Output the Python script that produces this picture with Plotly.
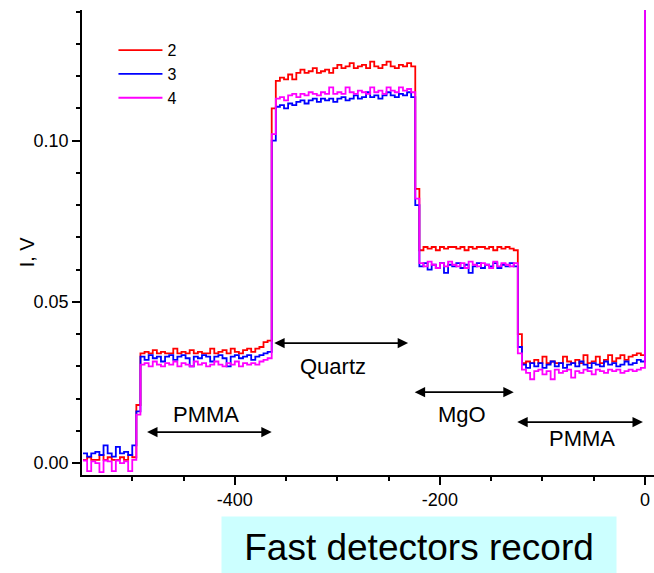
import plotly.graph_objects as go

# Time axis of the record (sampling step 4 units)
t_start, t_step = -548, 4

# Detector signals, I (V), one value per sample
det2 = [
    # substrate baseline
    0.0010, 0.0018, 0.0010, 0.0010, 0.0025, 0.0010, 0.0018, 0.0010, 0.0010, 0.0018, 0.0010, 0.0025, 0.0018,
    0.018,
    # PMMA
    0.0340, 0.0345, 0.0340, 0.0350, 0.0340, 0.0345, 0.0340, 0.0340, 0.0355, 0.0340,
    0.0345, 0.0340, 0.0350, 0.0340, 0.0345, 0.0340, 0.0340, 0.0355, 0.0340, 0.0345,
    0.0350, 0.0340, 0.0355, 0.0345, 0.0340, 0.0350, 0.0355, 0.0345, 0.0355, 0.0360,
    0.0375, 0.0380,
    0.110,
    # Quartz
    0.1185, 0.1195, 0.1190, 0.1205, 0.1190,
    0.1210, 0.1220, 0.1210, 0.1215, 0.1225, 0.1210, 0.1215, 0.1220, 0.1210,
    0.1225, 0.1235, 0.1225, 0.1230, 0.1240, 0.1225, 0.1230, 0.1235, 0.1225, 0.1245,
    0.1230, 0.1225, 0.1235, 0.1245, 0.1230, 0.1225, 0.1235, 0.1230, 0.1240, 0.1230,
    0.085,
    # MgO
    0.0660, 0.0670, 0.0665, 0.0670, 0.0660, 0.0670, 0.0665, 0.0670, 0.0670, 0.0665,
    0.0670, 0.0660, 0.0670, 0.0665, 0.0670, 0.0670, 0.0665, 0.0670, 0.0660, 0.0670,
    0.0665, 0.0670, 0.0665, 0.0660,
    0.040,
    # PMMA
    0.0310, 0.0315, 0.0310, 0.0320, 0.0310, 0.0330, 0.0310, 0.0315, 0.0310, 0.0310,
    0.0330, 0.0315, 0.0310, 0.0320, 0.0310, 0.0335, 0.0310, 0.0315, 0.0330, 0.0310,
    0.0320, 0.0335, 0.0315, 0.0325, 0.0335, 0.0320, 0.0330, 0.0335, 0.0340, 0.0335,
    0.20, 0.35,
]

det3 = [
    0.0030, 0.0020, 0.0030, 0.0035, 0.0025, 0.0055, 0.0030, 0.0020, 0.0050, 0.0030, 0.0035, 0.0025, 0.0055,
    0.016,
    0.0330, 0.0320, 0.0335, 0.0325, 0.0330, 0.0315, 0.0330, 0.0335, 0.0320, 0.0330,
    0.0335, 0.0325, 0.0300, 0.0330, 0.0325, 0.0335, 0.0330, 0.0315, 0.0330, 0.0335,
    0.0325, 0.0300, 0.0330, 0.0335, 0.0325, 0.0330, 0.0335, 0.0320, 0.0330, 0.0335,
    0.0340, 0.0345,
    0.100,
    0.1105, 0.1110, 0.1100, 0.1115, 0.1110, 0.1120, 0.1125, 0.1115, 0.1125, 0.1130,
    0.1120, 0.1130, 0.1125, 0.1130, 0.1120, 0.1130, 0.1135, 0.1125, 0.1130, 0.1140,
    0.1130, 0.1135, 0.1150, 0.1135, 0.1140, 0.1130, 0.1140, 0.1150, 0.1140, 0.1135,
    0.1145, 0.1140, 0.1150, 0.1135,
    0.080,
    0.0610, 0.0620, 0.0600, 0.0615, 0.0605, 0.0620, 0.0590, 0.0615, 0.0610, 0.0620,
    0.0605, 0.0615, 0.0590, 0.0610, 0.0620, 0.0605, 0.0615, 0.0610, 0.0620, 0.0605,
    0.0615, 0.0610, 0.0620, 0.0610,
    0.036,
    0.0305, 0.0295, 0.0310, 0.0300, 0.0310, 0.0295, 0.0305, 0.0315, 0.0300, 0.0310,
    0.0295, 0.0305, 0.0310, 0.0300, 0.0315, 0.0305, 0.0295, 0.0310, 0.0305, 0.0300,
    0.0315, 0.0305, 0.0310, 0.0300, 0.0305, 0.0315, 0.0305, 0.0310, 0.0320, 0.0315,
    0.18, 0.35,
]

det4 = [
    0.0008, -0.0025, 0.0005, 0.0000, -0.0028, 0.0008, 0.0005, -0.0025, 0.0008, 0.0000, 0.0005, -0.0025, 0.0010,
    0.015,
    0.0305, 0.0310, 0.0300, 0.0315, 0.0305, 0.0300, 0.0310, 0.0305, 0.0315, 0.0300,
    0.0310, 0.0305, 0.0300, 0.0315, 0.0305, 0.0310, 0.0300, 0.0305, 0.0315, 0.0305,
    0.0300, 0.0310, 0.0305, 0.0315, 0.0300, 0.0310, 0.0305, 0.0310, 0.0305, 0.0315,
    0.0320, 0.0325,
    0.102,
    0.1130, 0.1135, 0.1125, 0.1140, 0.1145, 0.1135, 0.1145, 0.1140, 0.1150, 0.1145,
    0.1140, 0.1150, 0.1145, 0.1165, 0.1145, 0.1150, 0.1145, 0.1165, 0.1150, 0.1145,
    0.1155, 0.1150, 0.1145, 0.1165, 0.1150, 0.1155, 0.1145, 0.1165, 0.1155, 0.1150,
    0.1165, 0.1155, 0.1160, 0.1150,
    0.082,
    0.0620, 0.0610, 0.0625, 0.0615, 0.0605, 0.0620, 0.0610, 0.0625, 0.0615, 0.0610,
    0.0620, 0.0605, 0.0625, 0.0615, 0.0610, 0.0620, 0.0615, 0.0605, 0.0625, 0.0610,
    0.0620, 0.0615, 0.0610, 0.0620,
    0.034,
    0.0290, 0.0280, 0.0260, 0.0285, 0.0290, 0.0275, 0.0285, 0.0260, 0.0290, 0.0280,
    0.0285, 0.0290, 0.0265, 0.0285, 0.0280, 0.0290, 0.0285, 0.0275, 0.0290, 0.0285,
    0.0280, 0.0290, 0.0285, 0.0290, 0.0280, 0.0285, 0.0290, 0.0285, 0.0290, 0.0295,
    0.19, 0.35,
]

series_names = ["2", "3", "4"]
series_colors = ["#FF0000", "#0000FF", "#FF00FF"]

# Axis tick labels (plain hyphen minus)
x_tick_vals = [-400, -200, 0]
x_tick_text = ["-400", "-200", "0"]
y_tick_vals = [0.0, 0.05, 0.10]
y_tick_text = ["0.00", "0.05", "0.10"]

# Material layers: label, arrow start, arrow end, arrow level, label position
layer_labels = ["PMMA", "Quartz", "MgO", "PMMA"]
layer_from = [-487, -363, -226, -126]
layer_to = [-364, -231, -128, -2]
layer_arrow_y = [0.0096, 0.0372, 0.0220, 0.0127]
layer_text_x = [-428, -304, -178, -61]
layer_text_y = [0.0152, 0.0300, 0.0152, 0.0075]

n = len(det2)
assert len(det3) == n and len(det4) == n
time = [t_start + t_step * i for i in range(n)]

FONT = "Liberation Sans, Arial, sans-serif"

fig = go.Figure()
for name, color, values in zip(series_names, series_colors, [det2, det3, det4]):
    fig.add_trace(go.Scatter(
        x=time, y=values, name=name, mode="lines",
        line=dict(color=color, width=1.8, shape="hv"),
    ))

annotations = []
for lab, x0, x1, ya, xt, yt in zip(layer_labels, layer_from, layer_to,
                                   layer_arrow_y, layer_text_x, layer_text_y):
    annotations.append(dict(
        x=x1, y=ya, ax=x0, ay=ya, xref="x", yref="y", axref="x", ayref="y",
        text="", showarrow=True, arrowhead=2, startarrowhead=2,
        arrowside="end+start", arrowsize=1.3, startarrowsize=1.3,
        arrowwidth=1.6, arrowcolor="black", standoff=0, startstandoff=0,
    ))
    annotations.append(dict(
        x=xt, y=yt, xref="x", yref="y", text=lab, showarrow=False,
        font=dict(family=FONT, size=22, color="black"),
    ))

# Axis title
annotations.append(dict(
    x=-0.097, y=0.48, xref="paper", yref="paper", xanchor="center", yanchor="middle",
    text="I, V", textangle=-90, showarrow=False,
    font=dict(family=FONT, size=20, color="black"),
))

# Caption box under the chart
annotations.append(dict(
    x=0.589, y=-0.0882, xref="paper", yref="paper", xanchor="center", yanchor="top",
    text="Fast detectors record", showarrow=False,
    width=394, height=60, borderpad=0, bgcolor="#CCFFFF",
    font=dict(family=FONT, size=37, color="black"),
))

fig.update_layout(
    width=654, height=573,
    margin=dict(l=82, r=0, t=10, b=98),
    paper_bgcolor="white", plot_bgcolor="white",
    font=dict(family=FONT, color="black"),
    showlegend=True,
    legend=dict(
        x=0.055, y=0.95, xanchor="left", yanchor="top",
        bgcolor="rgba(0,0,0,0)", font=dict(family=FONT, size=16, color="black"),
        tracegroupgap=0, itemwidth=44,
    ),
    annotations=annotations,
)

fig.update_xaxes(
    range=[-549, 8.8], showgrid=False, zeroline=False,
    showline=True, linecolor="black", linewidth=1.5,
    tickmode="array", tickvals=x_tick_vals, ticktext=x_tick_text,
    ticks="outside", ticklen=8, tickwidth=1.5, tickcolor="black",
    tickfont=dict(family=FONT, size=18, color="black"),
    minor=dict(tickmode="linear", tick0=0, dtick=50, ticks="outside",
               ticklen=4, tickwidth=1.5, tickcolor="black", showgrid=False),
)
fig.update_yaxes(
    range=[-0.0037, 0.1405], showgrid=False, zeroline=False,
    showline=True, linecolor="black", linewidth=1.5,
    tickmode="array", tickvals=y_tick_vals, ticktext=y_tick_text,
    ticks="outside", ticklen=8, tickwidth=1.5, tickcolor="black",
    tickfont=dict(family=FONT, size=18, color="black"),
    minor=dict(tickmode="linear", tick0=0, dtick=0.01, ticks="outside",
               ticklen=4, tickwidth=1.5, tickcolor="black", showgrid=False),
)

fig.write_html("out.html")
